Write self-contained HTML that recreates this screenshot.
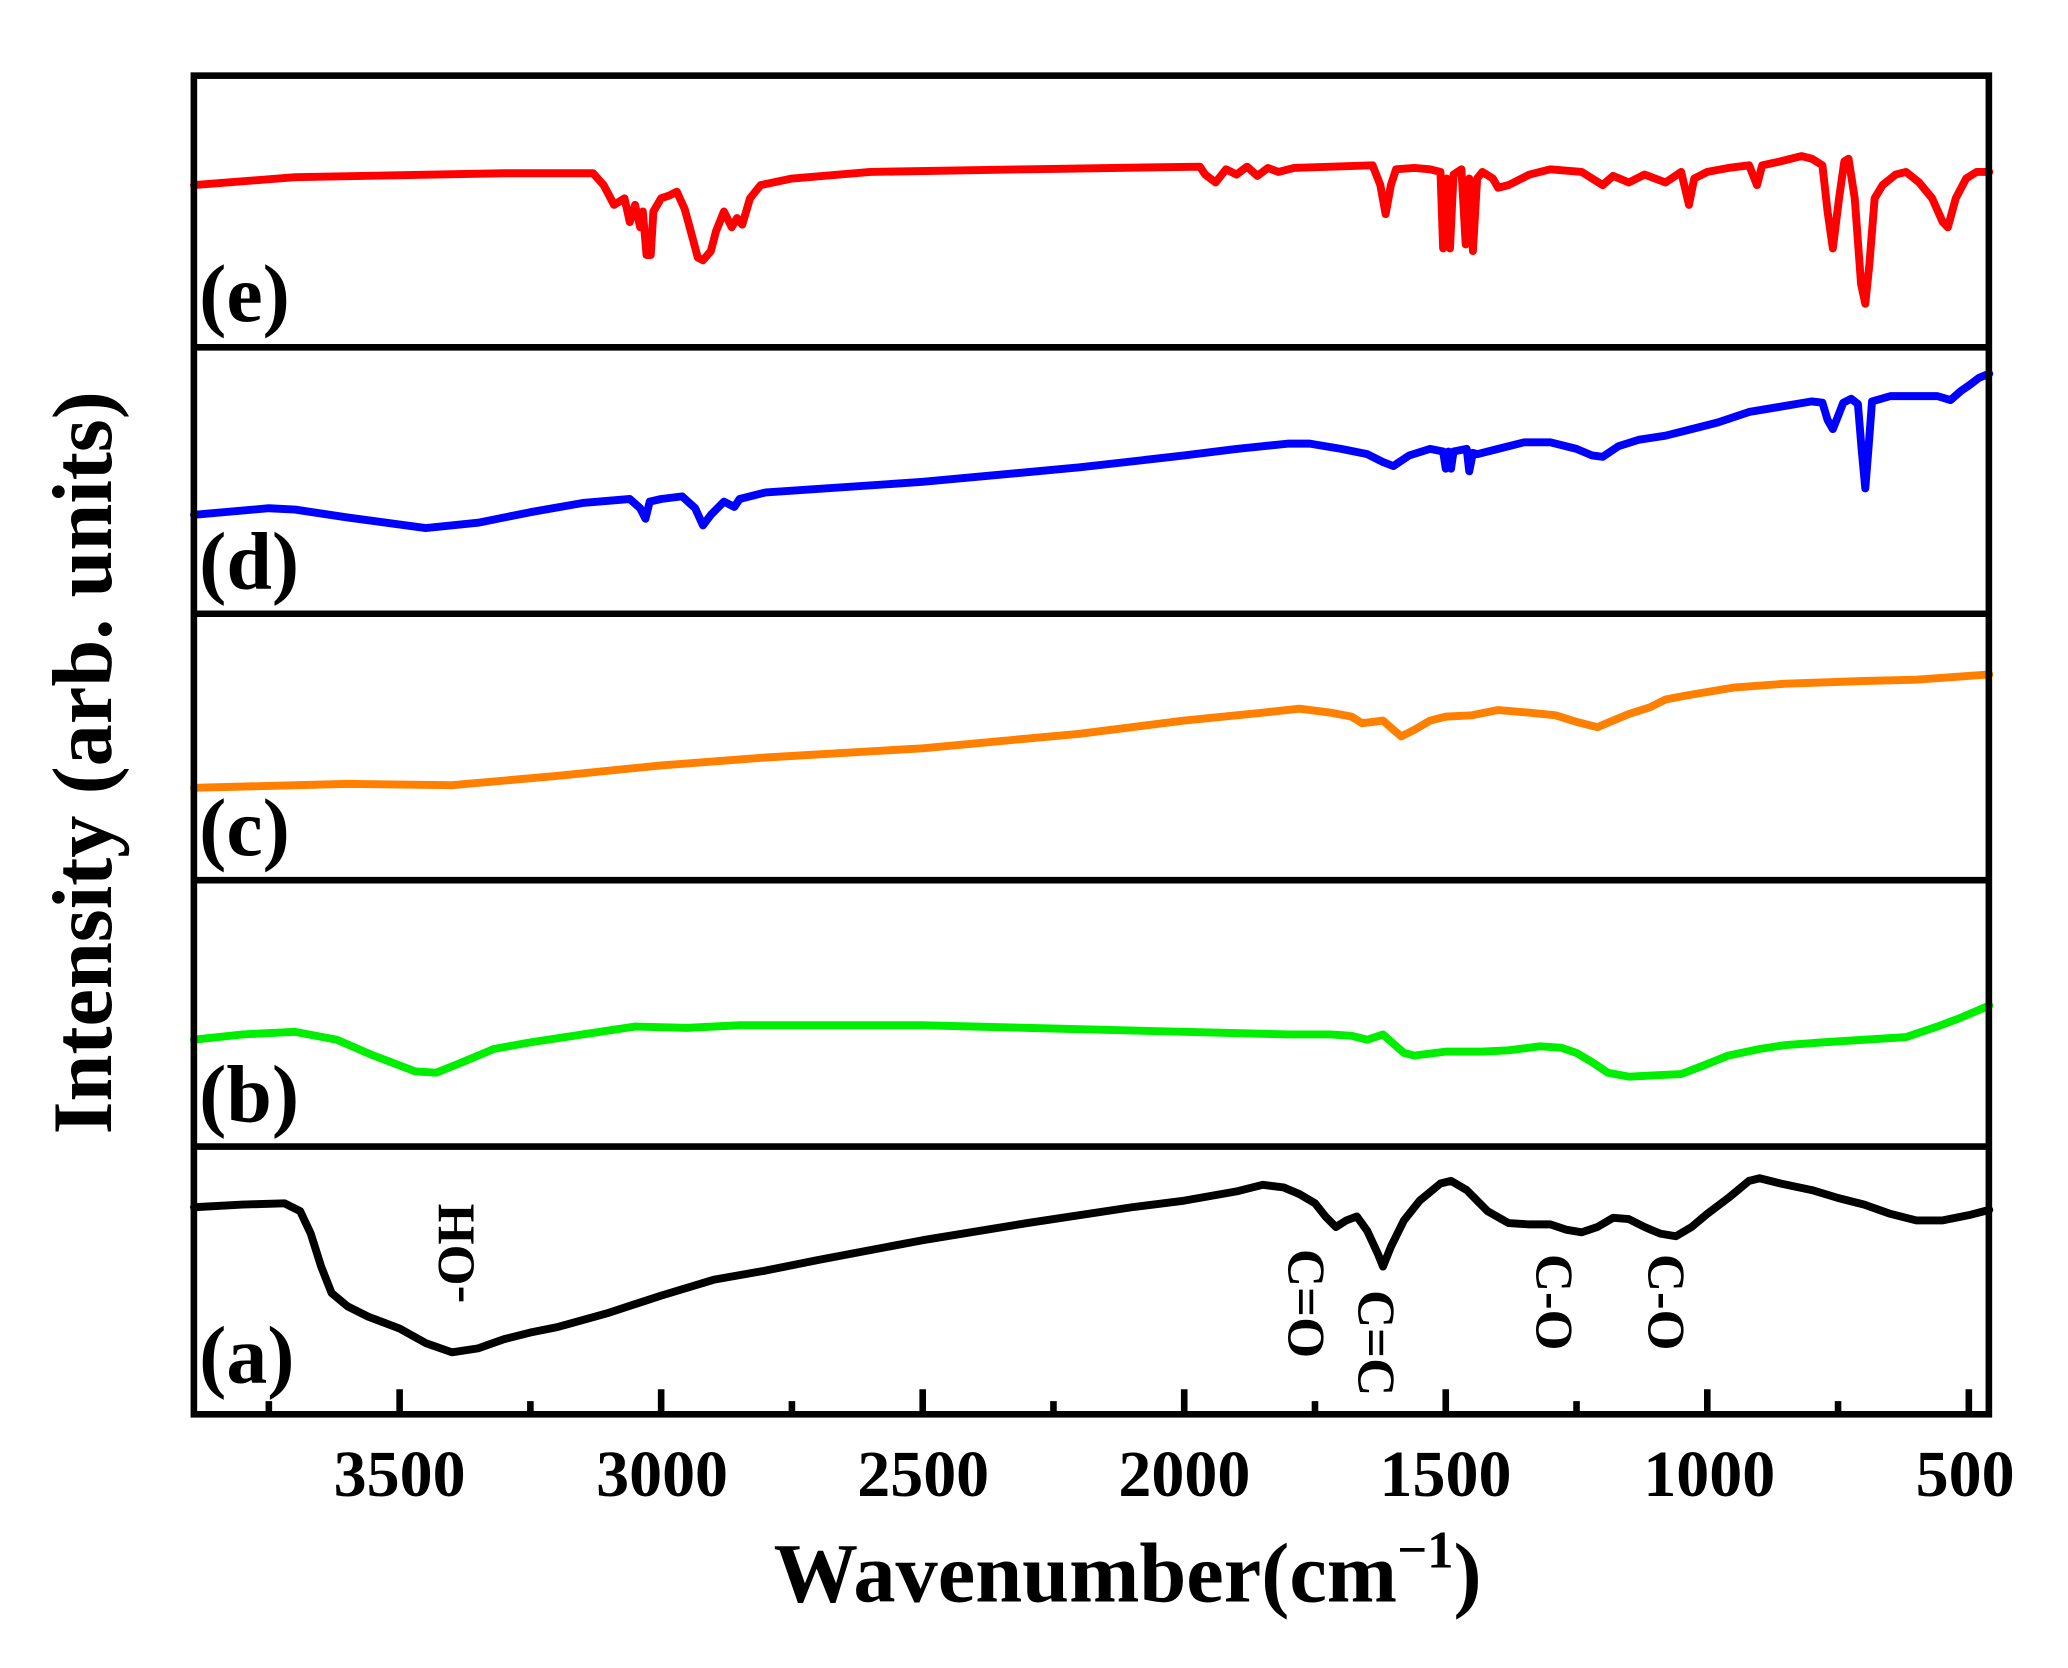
<!DOCTYPE html>
<html><head><meta charset="utf-8"><style>
html,body{margin:0;padding:0;background:#fff;}
svg{display:block;}
text{font-family:"Liberation Serif",serif;font-weight:bold;fill:#000;}
</style></head><body>
<svg id="s" width="2068" height="1668" viewBox="0 0 1568 1264" xmlns="http://www.w3.org/2000/svg">
<g id="curves" fill="none" stroke-width="6" stroke-linejoin="round" stroke-linecap="round"></g>
<g stroke="#000" stroke-width="5" fill="none">
<rect x="147" y="57" width="1361" height="1015"/>
<line x1="147" y1="263" x2="1508" y2="263"/>
<line x1="147" y1="465" x2="1508" y2="465"/>
<line x1="147" y1="667" x2="1508" y2="667"/>
<line x1="147" y1="869" x2="1508" y2="869"/>
</g>
<g id="ticks" stroke="#000" stroke-width="5"></g>
<g font-size="50" text-anchor="middle">
<text x="303" y="1134">3500</text><text x="502" y="1134">3000</text><text x="700" y="1134">2500</text>
<text x="898" y="1134">2000</text><text x="1096" y="1134">1500</text><text x="1296" y="1134">1000</text>
<text x="1490" y="1134">500</text>
</g>
<text x="855" y="1214" font-size="64" text-anchor="middle">Wavenumber(cm<tspan font-size="40" dy="-26">−1</tspan><tspan dy="26">)</tspan></text>
<text transform="translate(84,578) rotate(-90)" font-size="64" text-anchor="middle">Intensity (arb. units)</text>
<g font-size="62">
<text x="151" y="243">(e)</text><text x="151" y="446">(d)</text><text x="151" y="648">(c)</text>
<text x="151" y="850">(b)</text><text x="151" y="1048">(a)</text>
</g>
<g font-size="40" text-anchor="middle">
<text transform="translate(345,950) rotate(-90)" dy="14">-OH</text>
<text transform="translate(991,988) rotate(90)" dy="14">C=O</text>
<text transform="translate(1044,1018) rotate(90)" dy="14">C=C</text>
<text transform="translate(1179,987) rotate(90)" dy="14">C-O</text>
<text transform="translate(1264,987) rotate(90)" dy="14">C-O</text>
</g>
</svg>
<script>
function X(w){return 303+(3500-w)*0.3966;}
var ns="http://www.w3.org/2000/svg";
var data={
"#ff0000":[[3893,140],[3700,134],[3300,131],[3130,131],[3110,140],[3090,155],[3070,150],[3060,168],[3050,155],[3040,172],[3035,160],[3028,193],[3020,193],[3015,160],[3000,150],[2985,148],[2970,145],[2955,158],[2940,180],[2930,195],[2920,197],[2905,190],[2895,175],[2880,160],[2865,172],[2855,165],[2845,170],[2830,150],[2810,140],[2750,135],[2600,130],[2300,128],[1970,126],[1960,132],[1940,138],[1920,128],[1900,132],[1880,126],[1860,133],[1840,127],[1820,130],[1790,127],[1640,125],[1625,140],[1615,162],[1605,140],[1595,128],[1560,127],[1530,128],[1510,130],[1505,188],[1498,135],[1492,188],[1485,132],[1470,128],[1462,185],[1455,135],[1448,190],[1440,135],[1430,130],[1410,135],[1400,142],[1380,140],[1340,132],[1300,128],[1240,130],[1200,140],[1180,133],[1150,138],[1120,132],[1080,138],[1050,130],[1035,155],[1025,135],[1000,130],[960,127],[920,125],[905,140],[895,125],[860,122],[820,118],[800,120],[780,125],[770,160],[760,188],[748,150],[738,122],[730,120],[718,150],[706,215],[698,230],[690,200],[680,150],[665,140],[640,132],[620,130],[595,138],[570,150],[550,168],[540,172],[525,150],[505,135],[485,130],[461,130]],
"#0000ff":[[3893,390],[3750,385],[3700,386],[3600,392],[3450,400],[3350,396],[3250,388],[3150,381],[3060,378],[3040,385],[3030,393],[3022,380],[3000,378],[2960,376],[2935,385],[2920,398],[2905,390],[2880,380],[2860,384],[2850,378],[2800,373],[2500,365],[2200,354],[2000,345],[1900,340],[1800,336],[1760,336],[1700,340],[1650,344],[1620,350],[1600,353],[1570,345],[1530,340],[1505,342],[1500,355],[1495,342],[1490,355],[1485,342],[1460,340],[1455,357],[1448,343],[1440,344],[1400,340],[1350,335],[1300,335],[1250,340],[1220,345],[1200,346],[1170,338],[1130,333],[1080,330],[1030,325],[980,320],[920,312],[860,308],[800,304],[780,305],[770,318],[760,325],[750,315],[740,305],[725,302],[712,306],[705,340],[698,370],[692,340],[685,304],[650,300],[600,300],[560,300],[535,303],[515,296],[500,292],[480,286],[461,283]],
"#ff7f00":[[3893,597],[3600,594],[3400,595],[3200,588],[3000,580],[2800,574],[2500,567],[2200,556],[2000,546],[1850,540],[1780,537],[1720,540],[1680,543],[1660,548],[1640,547],[1620,546],[1600,553],[1585,558],[1560,553],[1530,546],[1500,543],[1450,542],[1400,538],[1340,540],[1290,542],[1250,547],[1210,551],[1180,546],[1150,541],[1110,536],[1080,530],[1040,527],[950,521],[850,518],[700,516],[600,515],[461,511]],
"#00ee00":[[3893,788],[3800,784],[3700,782],[3620,788],[3550,800],[3470,812],[3430,813],[3380,805],[3320,795],[3250,790],[3150,784],[3050,778],[2950,779],[2850,777],[2700,777],[2500,777],[2300,779],[2000,782],[1800,784],[1720,784],[1680,785],[1650,788],[1620,784],[1600,791],[1580,798],[1560,800],[1500,797],[1430,797],[1380,796],[1340,794],[1320,793],[1280,794],[1250,798],[1220,805],[1190,813],[1150,816],[1100,815],[1050,814],[1010,808],[960,800],[900,795],[850,792],[780,790],[700,788],[620,786],[560,778],[520,772],[490,767],[461,762]],
"#000000":[[3893,915],[3800,913],[3720,912],[3690,918],[3670,935],[3650,960],[3630,980],[3600,990],[3560,998],[3500,1007],[3450,1018],[3400,1025],[3350,1022],[3300,1015],[3250,1010],[3200,1006],[3100,995],[3000,982],[2900,970],[2800,963],[2700,955],[2500,940],[2300,927],[2100,915],[2000,910],[1900,903],[1850,898],[1810,900],[1780,905],[1750,912],[1730,922],[1710,930],[1690,925],[1670,922],[1650,933],[1630,950],[1620,960],[1605,945],[1580,925],[1550,910],[1510,897],[1490,895],[1460,902],[1420,918],[1380,927],[1340,928],[1300,928],[1270,932],[1240,934],[1210,930],[1180,923],[1150,924],[1120,930],[1090,935],[1060,937],[1030,930],[1000,920],[960,908],[920,895],[900,893],[860,897],[800,902],[750,908],[700,913],[650,920],[600,925],[550,925],[500,921],[461,917]]
};
var g=document.getElementById("curves");
for(var c in data){var p=document.createElementNS(ns,"polyline");
p.setAttribute("points",data[c].map(function(q){return X(q[0]).toFixed(1)+","+q[1];}).join(" "));
p.setAttribute("stroke",c);g.appendChild(p);}
var t=document.getElementById("ticks");
for(var w=3750;w>=500;w-=250){var l=document.createElementNS(ns,"line");var x=X(w);
var major=(w%500==0);l.setAttribute("x1",x);l.setAttribute("x2",x);l.setAttribute("y1",1072);l.setAttribute("y2",major?1053:1062);t.appendChild(l);}
</script>
</body></html>
